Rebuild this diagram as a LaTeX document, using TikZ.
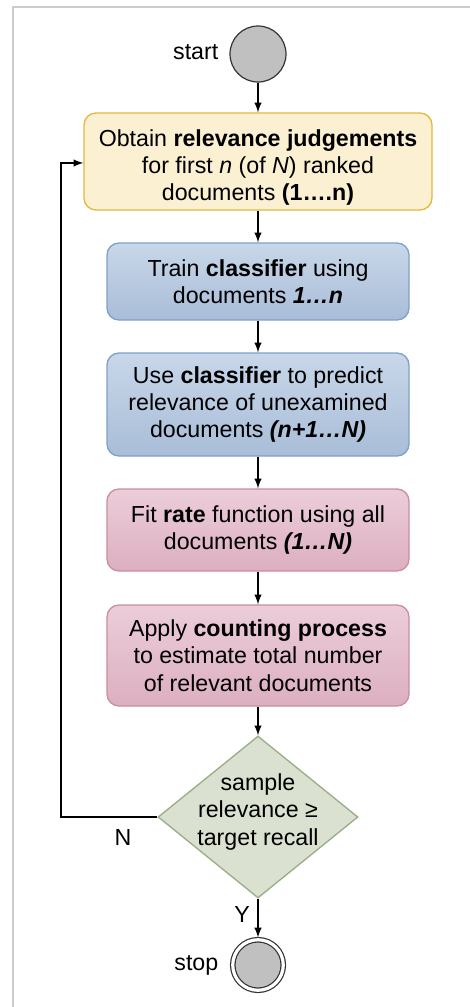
\documentclass[tikz,border=0pt]{standalone}
\usepackage{fontspec}
\setmainfont{Liberation Sans}
\usetikzlibrary{shapes.geometric}

\definecolor{framegray}{HTML}{CCCCCC}
\definecolor{judgefill}{HTML}{FBF0D2}
\definecolor{judgeline}{HTML}{E3B93C}
\definecolor{clstop}{HTML}{C8D7E9}
\definecolor{clsbot}{HTML}{A9BDD8}
\definecolor{clsline}{HTML}{7FA0C8}
\definecolor{ratetop}{HTML}{ECCDD9}
\definecolor{ratebot}{HTML}{DCAFC0}
\definecolor{rateline}{HTML}{C98DA4}
\definecolor{decfill}{HTML}{DAE1D0}
\definecolor{decline}{HTML}{9AAD86}
\definecolor{termfill}{HTML}{C0C0C0}

\begin{document}
\begin{tikzpicture}[x=0.75pt,y=-0.75pt,
  txt/.style={font=\fontsize{17.4pt}{20.5pt}\selectfont,align=center,text=black},
  box/.style={txt,rounded corners=9pt,line width=1pt,inner sep=0pt},
  judgebox/.style={box,draw=judgeline,fill=judgefill,minimum width=261pt,text height=62.5pt},
  clsbox/.style={box,draw=clsline,top color=clstop,bottom color=clsbot,minimum width=226.5pt},
  ratebox/.style={box,draw=rateline,top color=ratetop,bottom color=ratebot,minimum width=226.5pt},
  decision/.style={txt,diamond,draw=decline,fill=decfill,line width=1pt,aspect=1.235,inner sep=-6pt,text depth=11.2pt,minimum width=150pt,minimum height=121.5pt},
  terminal/.style={circle,draw=black!80,fill=termfill,line width=0.9pt,inner sep=0pt,minimum size=42pt},
  stopterm/.style={terminal,double=white,double distance=2.4pt,minimum size=37.9pt,outer sep=1.7pt},
  flow/.style={-latex,line width=1.5pt}]
  \useasboundingbox (0,0) rectangle (470,1007);
  \draw[framegray,line width=1pt] (470,7) -- (13,7) -- (13,1007);

  \node[terminal] (start) at (258,54) {};
  \node[txt,anchor=east] (startlabel) at (223,52) {start};
  \node[judgebox,minimum height=72.75pt] (judge) at (258,161.5)
    {Obtain \textbf{relevance judgements}\\for first \textit{n} (of \textit{N}) ranked\\documents \textbf{(1….n)}};
  \node[clsbox,minimum height=57.75pt] (train) at (258,281.5)
    {Train \textbf{classifier} using\\documents \textbf{\textit{1…n}}};
  \node[clsbox,minimum height=77.25pt] (predict) at (258,404.5)
    {Use \textbf{classifier} to predict\\relevance of unexamined\\documents \textbf{\textit{(n+1…N)}}};
  \node[ratebox,minimum height=61.5pt] (fit) at (258,530)
    {Fit \textbf{rate} function using all\\documents \textbf{\textit{(1…N)}}};
  \node[ratebox,minimum height=75.75pt] (count) at (258,655.5)
    {Apply \textbf{counting process}\\to estimate total number\\of relevant documents};
  \node[decision] (check) at (258,817) {sample\\relevance ≥\\target recall};
  \node[stopterm] (stop) at (258,965) {};
  \node[txt,anchor=east] (stoplabel) at (223,965) {stop};
  \node[txt] (no) at (123,838) {N};
  \node[txt] (yes) at (242,915) {Y};
  \coordinate (back) at (61,817);

  \foreach \a/\b in {start/judge,judge/train,train/predict,predict/fit,fit/count,count/check,check/stop}
    \draw[flow] (\a) -- (\b);
  \draw[flow] (check.west) -- (back) |- ([yshift=-1.1pt]judge.west);
\end{tikzpicture}
\end{document}
